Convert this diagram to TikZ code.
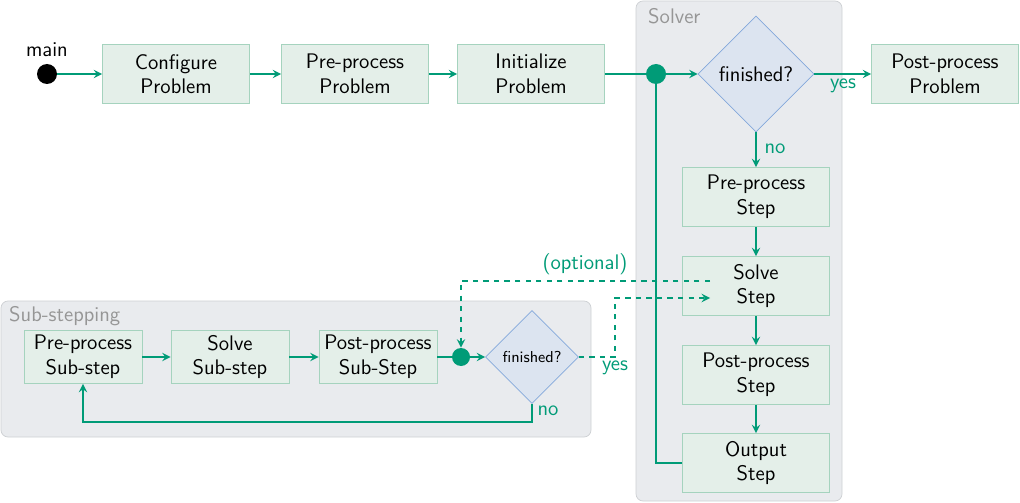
\documentclass[tikz,border=0pt]{standalone}
\usepackage{amsmath,amssymb}
\usetikzlibrary{shapes.geometric}

\definecolor{flowgreen}{RGB}{0,155,119}
\definecolor{boxfill}{RGB}{228,239,233}
\definecolor{boxline}{RGB}{165,211,190}
\definecolor{decfill}{RGB}{220,228,240}
\definecolor{decline}{RGB}{132,168,219}
\definecolor{groupfill}{RGB}{233,235,238}
\definecolor{groupline}{RGB}{205,208,211}
\definecolor{grouptext}{RGB}{150,150,150}

\tikzset{
  stepbox/.style={draw=boxline, fill=boxfill, align=center, font=\sffamily\large,
    minimum width=2.94cm, minimum height=1.18cm, inner sep=0pt},
  subbox/.style={stepbox, minimum width=2.36cm, minimum height=1.06cm},
  decision/.style={diamond, draw=decline, fill=decfill, font=\sffamily\large,
    minimum width=2.32cm, minimum height=2.32cm, inner sep=0pt},
  group/.style={draw=groupline, fill=groupfill, rounded corners=4pt},
  grouplabel/.style={anchor=west, text=grouptext, font=\sffamily\large},
  dot/.style={circle, fill=flowgreen, minimum size=0.4cm, inner sep=0pt},
  flow/.style={draw=flowgreen, line width=1.1pt},
  flowlabel/.style={text=flowgreen, font=\sffamily\large}
}

\begin{document}
\begin{tikzpicture}[x=0.02cm, y=-0.02cm, >=stealth]
    \useasboundingbox (0,0) rectangle (1020,503);

    % groups
    \draw[group] (636,1) rectangle (842,501);
    \node[grouplabel] (SolverLbl) at (642,16) {Solver};
    \draw[group] (1,301) rectangle (591,437);
    \node[grouplabel] (SubLbl) at (3,316) {Sub-stepping};

    % main line
    \node[circle, fill=black, minimum size=0.4cm, inner sep=0pt] (start) at (47,74) {};
    \node[font=\sffamily\large] (mainLbl) at (47,50) {main};
    \node[stepbox] (config) at (176,74) {Configure\\Problem};
    \node[stepbox] (preprob) at (355,74) {Pre-process\\Problem};
    \node[stepbox] (initprob) at (531,74) {Initialize\\Problem};
    \node[dot] (junc) at (656,74) {};
    \node[decision] (fin) at (756,74) {finished?};
    \node[stepbox] (postprob) at (945,74) {Post-process\\Problem};

    % solver steps
    \node[stepbox] (prestep) at (756,197) {Pre-process\\Step};
    \node[stepbox] (solvestep) at (756,286) {Solve\\Step};
    \node[stepbox] (poststep) at (756,375) {Post-process\\Step};
    \node[stepbox] (outstep) at (756,463) {Output\\Step};

    % sub-stepping
    \node[subbox] (subpre) at (83,357) {Pre-process\\Sub-step};
    \node[subbox] (subsolve) at (230,357) {Solve\\Sub-step};
    \node[subbox] (subpost) at (378,357) {Post-process\\Sub-Step};
    \node[dot, minimum size=0.36cm] (subjunc) at (461,357) {};
    \node[decision, font=\sffamily\small, minimum width=1.86cm, minimum height=1.86cm] (subfin) at (532,357) {finished?};

    \draw[flow,->] (start) -- (config);
    \draw[flow,->] (config) -- (preprob);
    \draw[flow,->] (preprob) -- (initprob);
    \draw[flow] (initprob) -- (junc);
    \draw[flow,->] (junc) -- (fin);
    \draw[flow,->] (fin) -- (postprob);
    \node[flowlabel] (yesTop) at (843,86) {yes};
    \draw[flow,->] (fin) -- (prestep);
    \node[flowlabel] (noTop) at (775,149) {no};

    \draw[flow,->] (prestep) -- (solvestep);
    \draw[flow,->] (solvestep) -- (poststep);
    \draw[flow,->] (poststep) -- (outstep);
    \draw[flow] (outstep.west) -| (junc);

    \draw[flow,->] (subpre) -- (subsolve);
    \draw[flow,->] (subsolve) -- (subpost);
    \draw[flow] (subpost) -- (subjunc);
    \draw[flow,->] (subjunc) -- (subfin);
    \coordinate (noCorner) at (532,422);
    \draw[flow,->] (subfin.south) -- (noCorner) -| (subpre.south);
    \node[flowlabel] (noSub) at (548,411) {no};

    % optional sub-stepping
    \coordinate (yesIn) at (710,298);
    \coordinate (optOut) at (710,281);
    \draw[flow,dashed,->] (subfin.east) -- (615,357) |- (yesIn);
    \node[flowlabel] (yesSub) at (615,368) {yes};
    \draw[flow,dashed,->] (optOut) -| (subjunc.north);
    \node[flowlabel] (optLbl) at (585,264) {(optional)};
\end{tikzpicture}
\end{document}
